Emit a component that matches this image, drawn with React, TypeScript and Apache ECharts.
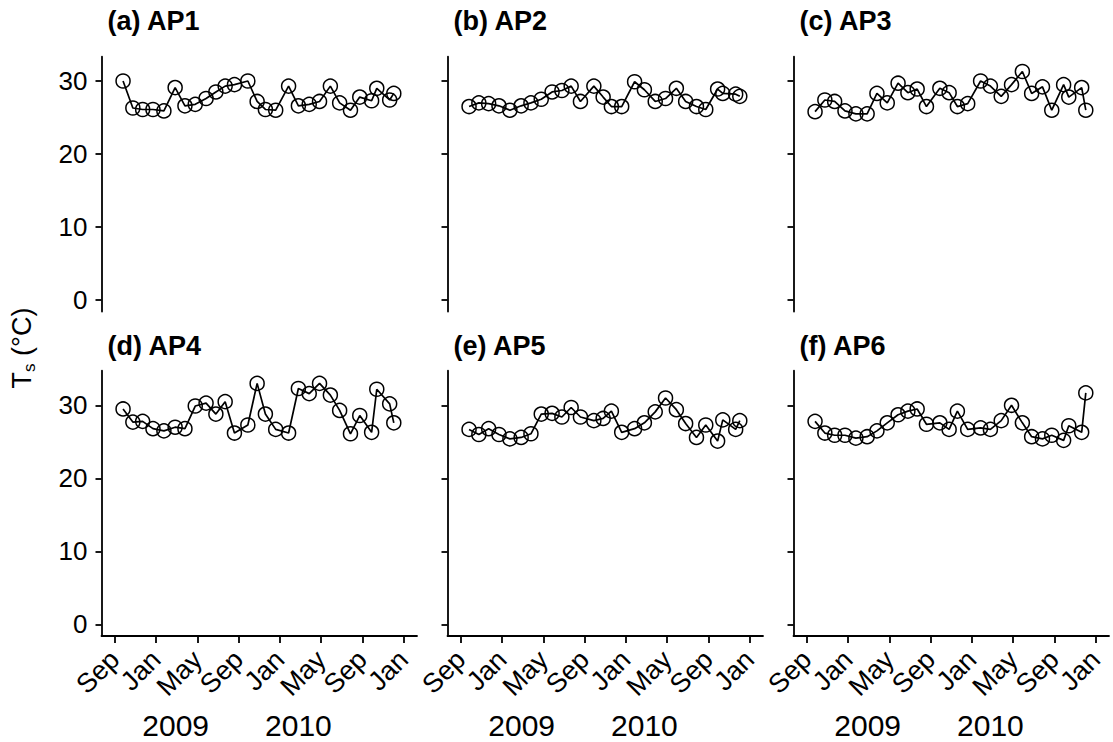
import React, { useEffect, useRef } from "react";
import * as echarts from "echarts";

// sampling times, in months after 1 Sep 2008
const sampleMonth = [0.8, 1.75, 2.7, 3.7, 4.76, 5.85, 6.8, 7.8, 8.85, 9.8, 10.7, 11.6, 12.9, 13.8, 14.6, 15.6, 16.85, 17.8, 18.85, 19.85, 20.9, 21.8, 22.85, 23.75, 24.9, 25.4, 26.65, 27.05];

const panelTitles = ["(a) AP1", "(b) AP2", "(c) AP3", "(d) AP4", "(e) AP5", "(f) AP6"];

const AP1 = [30.0, 26.3, 26.1, 26.1, 25.9, 29.1, 26.6, 26.8, 27.6, 28.5, 29.3, 29.5, 30.0, 27.2, 26.1, 26.0, 29.3, 26.6, 26.8, 27.2, 29.3, 27.0, 26.0, 27.8, 27.3, 29.0, 27.4, 28.3];
const AP2 = [26.5, 27.0, 26.9, 26.6, 26.0, 26.6, 27.0, 27.5, 28.5, 28.7, 29.3, 27.2, 29.3, 27.8, 26.5, 26.5, 29.9, 28.8, 27.2, 27.6, 29.0, 27.2, 26.5, 26.1, 28.9, 28.3, 28.2, 27.9];
const AP3 = [25.8, 27.4, 27.2, 25.9, 25.5, 25.5, 28.3, 27.0, 29.7, 28.4, 28.9, 26.5, 29.0, 28.4, 26.5, 26.9, 30.0, 29.3, 27.9, 29.5, 31.3, 28.3, 29.2, 26.0, 29.5, 27.8, 29.1, 26.0];
const AP4 = [29.5, 27.7, 27.8, 26.8, 26.5, 27.0, 26.8, 29.9, 30.3, 28.8, 30.5, 26.2, 27.3, 33.0, 28.8, 26.7, 26.2, 32.3, 31.6, 33.0, 31.4, 29.3, 26.1, 28.6, 26.3, 32.2, 30.2, 27.6];
const AP5 = [26.7, 26.0, 26.8, 26.0, 25.4, 25.6, 26.1, 28.8, 28.9, 28.4, 29.7, 28.4, 27.9, 28.2, 29.2, 26.3, 26.8, 27.6, 29.1, 31.0, 29.4, 27.5, 25.6, 27.3, 25.1, 28.0, 26.7, 27.9];
const AP6 = [27.8, 26.2, 25.9, 25.9, 25.5, 25.7, 26.5, 27.6, 28.7, 29.2, 29.5, 27.4, 27.6, 26.7, 29.2, 26.7, 26.9, 26.7, 27.9, 30.0, 27.6, 25.7, 25.4, 25.9, 25.2, 27.2, 26.3, 31.7];

const panelData = [AP1, AP2, AP3, AP4, AP5, AP6];

const monthTicks = [0, 4, 8, 12, 16, 20, 24, 28];
const monthNames = ["Sep", "Jan", "May"];
const yearTicks = [5.9, 17.8];
const yearNames = ["2009", "2010"];
const yTicks = [0, 10, 20, 30];

export default function App() {
  const ref = useRef<HTMLDivElement>(null);
  useEffect(() => {
    const chart = echarts.init(ref.current!, null, { renderer: "svg" });
    const font = "'Liberation Sans', Arial, Helvetica, sans-serif";
    const lefts = [101.5, 447.5, 793.5];
    const rows = [
      { top: 56.7, height: 254.8, min: -1.575, max: 33.33, titleTop: 7 },
      { top: 370.7, height: 265.3, min: -1.6, max: 34.74, titleTop: 332 },
    ];
    const axisStyle = { color: "#000", width: 1.8 };
    const grids: any[] = [];
    const xAxes: any[] = [];
    const yAxes: any[] = [];
    const series: any[] = [];
    const titles: any[] = [];
    for (let i = 0; i < 6; i++) {
      const r = Math.floor(i / 3);
      const c = i % 3;
      const row = rows[r];
      const bottom = r === 1;
      grids.push({ left: lefts[c], top: row.top, width: 315.5, height: row.height });
      xAxes.push({
        type: "value",
        gridIndex: i,
        min: -1.29,
        max: 29.3,
        axisLine: { show: bottom, onZero: false, lineStyle: axisStyle },
        axisTick: { show: bottom, customValues: monthTicks, length: 7, lineStyle: axisStyle },
        axisLabel: {
          show: bottom,
          customValues: monthTicks,
          rotate: 45,
          margin: 19,
          fontSize: 27,
          fontFamily: font,
          color: "#000",
          formatter: (v: number) => monthNames[Math.round(v / 4) % 3],
        },
        splitLine: { show: false },
      });
      yAxes.push({
        type: "value",
        gridIndex: i,
        min: row.min,
        max: row.max,
        axisLine: { show: true, onZero: false, lineStyle: axisStyle },
        axisTick: { show: true, customValues: yTicks, length: 6, lineStyle: axisStyle },
        axisLabel: {
          show: c === 0,
          customValues: yTicks,
          margin: 14,
          fontSize: 26,
          fontFamily: font,
          color: "#000",
        },
        splitLine: { show: false },
      });
      titles.push({
        text: panelTitles[i],
        left: lefts[c] + 6,
        top: row.titleTop,
        padding: 0,
        textStyle: { fontSize: 27, fontWeight: "bold", fontFamily: font, color: "#000" },
      });
      series.push({
        type: "line",
        xAxisIndex: i,
        yAxisIndex: i,
        data: sampleMonth.map((m, k) => [m, panelData[i][k]]),
        symbol: "circle",
        symbolSize: 14,
        showSymbol: true,
        lineStyle: { color: "#000", width: 1.7 },
        itemStyle: { color: "rgba(0,0,0,0)", borderColor: "#000", borderWidth: 1.5 },
        emphasis: { disabled: true },
      });
    }
    for (let c = 0; c < 3; c++) {
      xAxes.push({
        type: "value",
        gridIndex: 3 + c,
        min: -1.29,
        max: 29.3,
        position: "bottom",
        offset: 66,
        axisLine: { show: false },
        axisTick: { show: false },
        axisLabel: {
          customValues: yearTicks,
          margin: 8,
          fontSize: 30,
          fontFamily: font,
          color: "#000",
          formatter: (v: number) => yearNames[yearTicks.indexOf(v)] ?? "",
        },
        splitLine: { show: false },
      });
    }
    chart.setOption({
      animation: false,
      backgroundColor: "#fff",
      title: titles,
      grid: grids,
      xAxis: xAxes,
      yAxis: yAxes,
      series,
      graphic: [
        {
          type: "text",
          x: 22,
          y: 348,
          rotation: Math.PI / 2,
          style: {
            text: "{a|T}{b|s}{a| (°C)}",
            align: "center",
            verticalAlign: "middle",
            rich: {
              a: { fontSize: 27, fontFamily: font, fill: "#000" },
              b: { fontSize: 17, fontFamily: font, fill: "#000", verticalAlign: "bottom", padding: [14, 0, 0, 0] },
            },
          },
        },
      ],
    });
    return () => chart.dispose();
  }, []);
  return (
    <div
      ref={ref}
      style={{ position: "fixed", left: 0, top: 0, width: 1113, height: 742, background: "#fff" }}
    />
  );
}
